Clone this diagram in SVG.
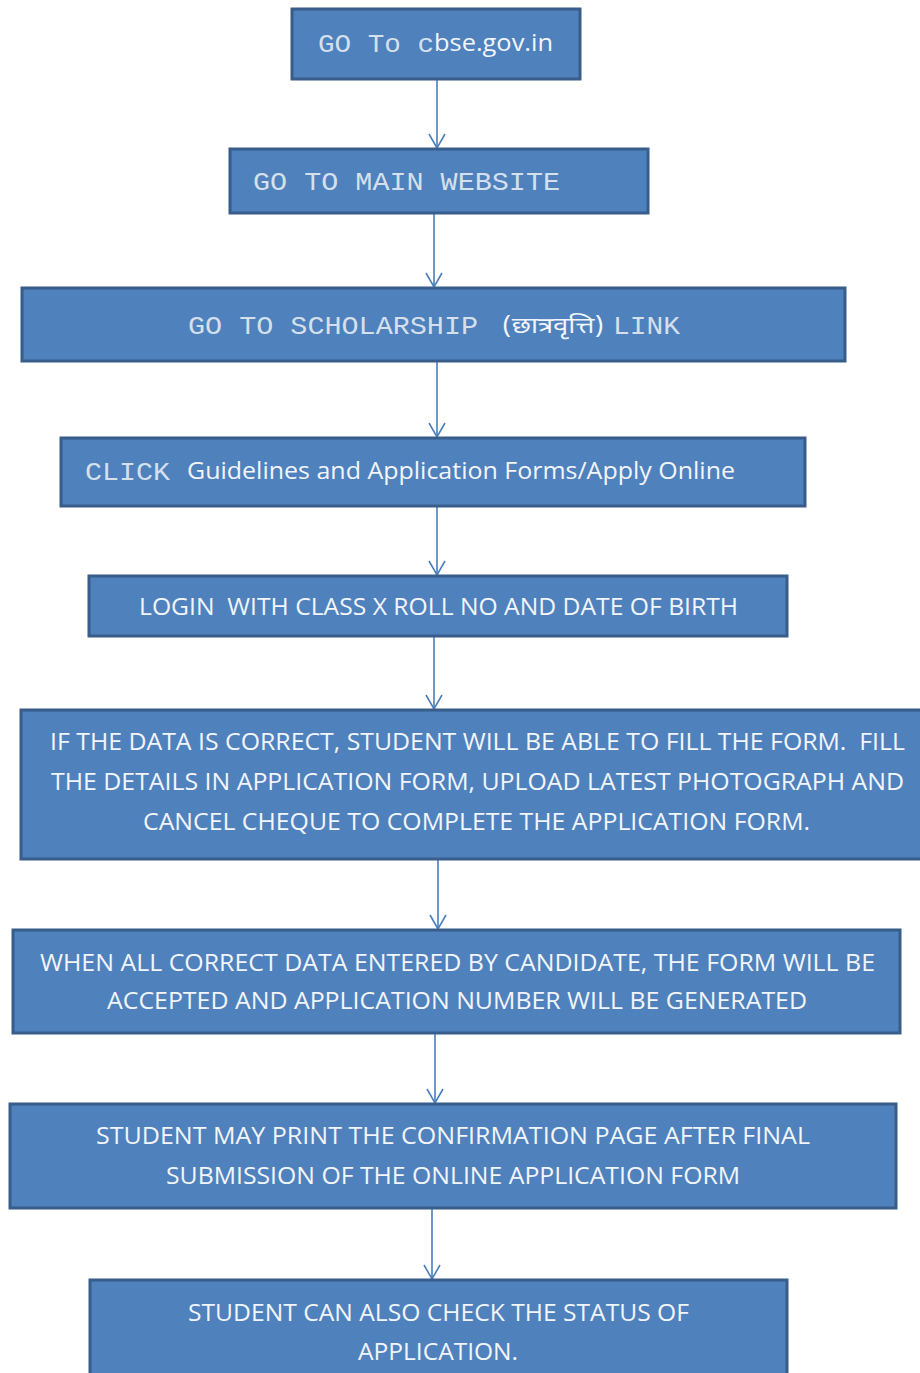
<svg xmlns="http://www.w3.org/2000/svg" width="920" height="1373" viewBox="0 0 920 1373">
<style>
.box{fill:#4F81BD;stroke:#385D8A;stroke-width:3}
.mono{font-family:"Liberation Mono","Courier New",monospace;font-size:26px;fill:#D6E0EC}
.sans{font-family:"Open Sans","Liberation Sans",sans-serif;font-size:24px;fill:#F2F5FA}
.deva{font-family:"Noto Sans Devanagari","Noto Sans","Lohit Devanagari",sans-serif;font-size:22px;fill:#F2F5FA}
.conn{stroke:#4A7EBB;stroke-width:1.6;fill:none}
</style>
<defs>
<marker id="arr" viewBox="0 0 20 20" refX="18" refY="10" markerWidth="20" markerHeight="20" markerUnits="userSpaceOnUse" orient="auto">
<path d="M4,2 L18,10 L4,18" fill="none" stroke="#4A7EBB" stroke-width="1.6"/>
</marker>
</defs>
<rect width="920" height="1373" fill="#FFFFFF"/>
<g id="connectors">
<line class="conn" x1="437" y1="79" x2="437" y2="148" marker-end="url(#arr)"/>
<line class="conn" x1="434" y1="213" x2="434" y2="287" marker-end="url(#arr)"/>
<line class="conn" x1="437" y1="361" x2="437" y2="437" marker-end="url(#arr)"/>
<line class="conn" x1="437" y1="506" x2="437" y2="575" marker-end="url(#arr)"/>
<line class="conn" x1="434" y1="636" x2="434" y2="709" marker-end="url(#arr)"/>
<line class="conn" x1="438" y1="859" x2="438" y2="929" marker-end="url(#arr)"/>
<line class="conn" x1="435" y1="1033" x2="435" y2="1103" marker-end="url(#arr)"/>
<line class="conn" x1="432" y1="1208" x2="432" y2="1279" marker-end="url(#arr)"/>
</g>
<g id="n1">
<rect class="box" x="292" y="9" width="288" height="70"/>
<text class="mono" x="318" y="52" textLength="116" lengthAdjust="spacingAndGlyphs">GO To c</text>
<text class="sans" x="434" y="51" textLength="119" lengthAdjust="spacingAndGlyphs">bse.gov.in</text>
</g>
<g id="n2">
<rect class="box" x="230" y="149" width="418" height="64"/>
<text class="mono" x="253" y="190" textLength="307" lengthAdjust="spacingAndGlyphs">GO TO MAIN WEBSITE</text>
</g>
<g id="n3">
<rect class="box" x="22" y="288" width="823" height="73"/>
<text class="mono" x="188" y="334" textLength="290" lengthAdjust="spacingAndGlyphs">GO TO SCHOLARSHIP</text>
<text class="deva" x="502" y="333" textLength="102" lengthAdjust="spacingAndGlyphs">(छात्रवृत्ति)</text>
<text class="mono" x="613" y="334" textLength="67" lengthAdjust="spacingAndGlyphs">LINK</text>
</g>
<g id="n4">
<rect class="box" x="61" y="438" width="744" height="68"/>
<text class="mono" x="85" y="480" textLength="85" lengthAdjust="spacingAndGlyphs">CLICK</text>
<text class="sans" x="187" y="479" textLength="548" lengthAdjust="spacingAndGlyphs">Guidelines and Application Forms/Apply Online</text>
</g>
<g id="n5">
<rect class="box" x="89" y="576" width="698" height="60"/>
<text class="sans" x="139" y="615" textLength="599" lengthAdjust="spacingAndGlyphs" xml:space="preserve">LOGIN  WITH CLASS X ROLL NO AND DATE OF BIRTH</text>
</g>
<g id="n6">
<rect class="box" x="21" y="710" width="904" height="149"/>
<text class="sans" x="50" y="750" textLength="855" lengthAdjust="spacingAndGlyphs" xml:space="preserve">IF THE DATA IS CORRECT, STUDENT WILL BE ABLE TO FILL THE FORM.  FILL</text>
<text class="sans" x="51" y="790" textLength="853" lengthAdjust="spacingAndGlyphs">THE DETAILS IN APPLICATION FORM, UPLOAD LATEST PHOTOGRAPH AND</text>
<text class="sans" x="143" y="830" textLength="667" lengthAdjust="spacingAndGlyphs">CANCEL CHEQUE TO COMPLETE THE APPLICATION FORM.</text>
</g>
<g id="n7">
<rect class="box" x="13" y="930" width="887" height="103"/>
<text class="sans" x="40" y="971" textLength="835" lengthAdjust="spacingAndGlyphs">WHEN ALL CORRECT DATA ENTERED BY CANDIDATE, THE FORM WILL BE</text>
<text class="sans" x="107" y="1009" textLength="700" lengthAdjust="spacingAndGlyphs">ACCEPTED AND APPLICATION NUMBER WILL BE GENERATED</text>
</g>
<g id="n8">
<rect class="box" x="10" y="1104" width="886" height="104"/>
<text class="sans" x="96" y="1144" textLength="714" lengthAdjust="spacingAndGlyphs">STUDENT MAY PRINT THE CONFIRMATION PAGE AFTER FINAL</text>
<text class="sans" x="166" y="1184" textLength="574" lengthAdjust="spacingAndGlyphs">SUBMISSION OF THE ONLINE APPLICATION FORM</text>
</g>
<g id="n9">
<rect class="box" x="90" y="1280" width="697" height="110"/>
<text class="sans" x="188" y="1321" textLength="501" lengthAdjust="spacingAndGlyphs">STUDENT CAN ALSO CHECK THE STATUS OF</text>
<text class="sans" x="358" y="1360" textLength="160" lengthAdjust="spacingAndGlyphs">APPLICATION.</text>
</g>
</svg>
